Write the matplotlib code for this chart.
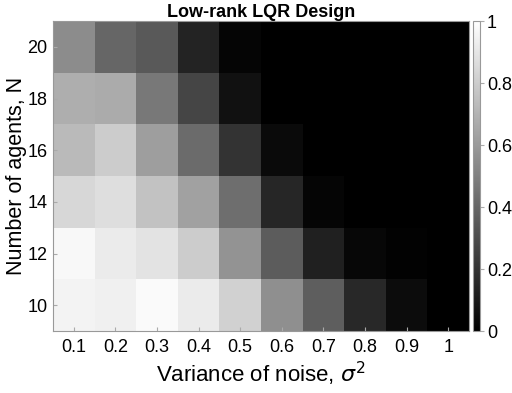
import numpy as np
import matplotlib
matplotlib.use("Agg")
import matplotlib.pyplot as plt

plt.rcParams['font.family'] = ['Liberation Sans', 'DejaVu Sans']

sigma2 = [0.1, 0.2, 0.3, 0.4, 0.5, 0.6, 0.7, 0.8, 0.9, 1]
agents = [10, 12, 14, 16, 18, 20]
sigma_labels = ['0.1', '0.2', '0.3', '0.4', '0.5', '0.6', '0.7', '0.8', '0.9', '1']

# rows: N = 10 .. 20
row_10 = [0.95, 0.94, 0.98, 0.92, 0.82, 0.56, 0.37, 0.16, 0.05, 0.0]
row_12 = [0.97, 0.92, 0.89, 0.80, 0.58, 0.36, 0.13, 0.03, 0.01, 0.0]
row_14 = [0.84, 0.87, 0.76, 0.63, 0.43, 0.15, 0.02, 0.0, 0.0, 0.0]
row_16 = [0.73, 0.80, 0.62, 0.42, 0.20, 0.04, 0.0, 0.0, 0.0, 0.0]
row_18 = [0.68, 0.67, 0.47, 0.27, 0.07, 0.0, 0.0, 0.0, 0.0, 0.0]
row_20 = [0.55, 0.40, 0.35, 0.14, 0.02, 0.0, 0.0, 0.0, 0.0, 0.0]

Z = np.array([row_10, row_12, row_14, row_16, row_18, row_20])

fig = plt.figure(figsize=(5.12, 3.93), dpi=100)
ax = fig.add_axes([53/512, 1 - 331/393, 416/512, 310/393])
cax = fig.add_axes([473/512, 1 - 331/393, 7/512, 310/393])

im = ax.imshow(Z, cmap='gray', vmin=0, vmax=1, origin='lower', aspect='auto',
               interpolation='nearest')
ax.set_xticks(range(len(sigma2)))
ax.set_xticklabels(sigma_labels)
ax.set_yticks(range(len(agents)))
ax.set_yticklabels([str(a) for a in agents])
ax.tick_params(direction='in', length=3, labelsize=13, color='#aaaaaa')
ax.tick_params(axis='x', pad=5.5)
ax.tick_params(axis='y', pad=4)
for s in ax.spines.values():
    s.set_color('#999999')
ax.set_xlabel(r'Variance of noise, $\sigma^2$', fontsize=16, labelpad=3)
ax.set_ylabel('Number of agents, N', fontsize=15.5)
ax.yaxis.set_label_coords(-0.063, 0.5)
ax.set_title('Low-rank LQR Design', fontsize=13, fontweight='bold', pad=3)

cb = fig.colorbar(im, cax=cax)
cb.set_ticks([0, 0.2, 0.4, 0.6, 0.8, 1])
cb.set_ticklabels(['0', '0.2', '0.4', '0.6', '0.8', '1'])
cax.tick_params(labelsize=13, length=3, color='#aaaaaa', pad=2)
cb.outline.set_edgecolor('#999999')

fig.savefig('out.png', dpi=100)
